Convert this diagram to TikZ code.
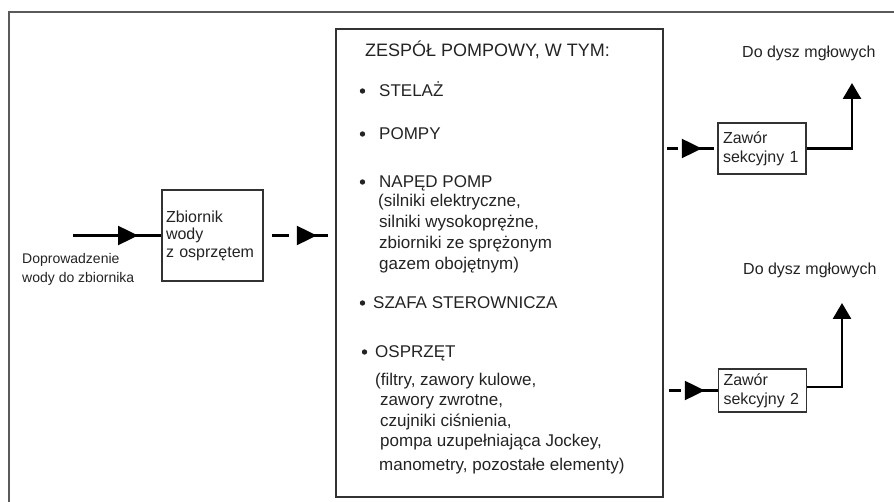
\documentclass[tikz,border=0pt]{standalone}
\usepackage{fontspec}
\setmainfont{Liberation Sans}
\usetikzlibrary{arrows.meta,decorations.markings}
\definecolor{frame-color}{RGB}{90,90,90}
\definecolor{box-color}{RGB}{50,50,50}
\definecolor{text-color}{RGB}{35,35,35}

\tikzset{
    block/.style={draw=box-color, line width=1.5pt, inner sep=0pt, text=text-color},
    plaintext/.style={anchor=base west, inner sep=0pt, text=text-color},
    bodyfont/.style={font=\fontsize{17}{21}\selectfont},
    smallfont/.style={font=\fontsize{16}{19}\selectfont},
    valvebox/.style={block, text width=78pt, inner xsep=5pt, minimum height=#1,
        align=left, smallfont},
    feed/.style 2 args={line width=2.5pt, draw=black, dash pattern=#1,
        postaction={decorate}, decoration={markings,
        mark=at position #2 with {\arrow{Triangle[length=20pt,width=19pt]}}}},
    outflow/.style={line width=2.8pt, -{Triangle[length=16pt,width=18pt]}}
}

\begin{document}
\begin{tikzpicture}[x=1pt, y=-1pt]
    \useasboundingbox (0,0) rectangle (894,502);
    \draw[frame-color, line width=2pt] (9,515) -- (9,12) -- (900,12);

    % zbiornik
    \node[block, text width=93pt, inner xsep=4pt, minimum height=91pt, align=left,
        font=\fontsize{16}{17.5}\selectfont] (tank) at (212.5,235.5)
        {Zbiornik\\wody\\z osprzętem};
    \coordinate (inlet) at (73,235.5);
    \draw[feed={on 200pt off 0pt}{65pt}] (inlet) -- (tank.west);
    \node[plaintext, font=\fontsize{14}{19}\selectfont] (inlet-a) at (22,264) {Doprowadzenie};
    \node[plaintext, font=\fontsize{14}{19}\selectfont] (inlet-b) at (22,283) {wody do zbiornika};

    % zespol pompowy
    \node[block, minimum width=327pt, minimum height=468pt] (pumpset) at (499.5,263) {};
    \draw[feed={on 0pt off 8pt on 17pt off 9pt on 30pt off 20pt}{53pt}] (tank.east) -- (tank.east -| pumpset.west);

    \node[plaintext, font=\fontsize{18}{22}\selectfont] (title) at (365,57) {ZESPÓŁ POMPOWY, W TYM:};
    \node[plaintext, bodyfont] (stelaz) at (379,97) {STELAŻ};
    \node[plaintext, bodyfont] (pompy) at (379,140) {POMPY};
    \node[plaintext, bodyfont] (naped) at (379,188) {NAPĘD POMP};
    \node[plaintext, bodyfont] (naped-a) at (378,207) {(silniki elektryczne,};
    \node[plaintext, bodyfont] (naped-b) at (379,228) {silniki wysokoprężne,};
    \node[plaintext, bodyfont] (naped-c) at (379,249) {zbiorniki ze sprężonym};
    \node[plaintext, bodyfont] (naped-d) at (379,270) {gazem obojętnym)};
    \node[plaintext, bodyfont] (szafa) at (373,309) {SZAFA STEROWNICZA};
    \node[plaintext, bodyfont] (osprzet) at (375,358) {OSPRZĘT};
    \node[plaintext, bodyfont] (osprzet-a) at (375,385) {(filtry, zawory kulowe,};
    \node[plaintext, bodyfont] (osprzet-b) at (380,406) {zawory zwrotne,};
    \node[plaintext, bodyfont] (osprzet-c) at (380,426) {czujniki ciśnienia,};
    \node[plaintext, bodyfont] (osprzet-d) at (380,446) {pompa uzupełniająca Jockey,};
    \node[plaintext, bodyfont] (osprzet-e) at (379,470) {manometry, pozostałe elementy)};
    \foreach \bx/\by in {362.5/91, 362.5/134, 362.5/182, 362.5/303, 364.5/352}
        \fill[text-color] (\bx,\by) circle (2.7);

    % zawory sekcyjne
    \node[valvebox=51pt] (valve1) at (762,148.5) {Zawór\\sekcyjny 1};
    \node[valvebox=43pt] (valve2) at (762.5,390.5) {Zawór\\sekcyjny 2};
    \draw[feed={on 0pt off 3pt on 11pt off 7pt on 29pt off 10pt}{38pt}] (pumpset.east |- valve1.west) -- (valve1.west);
    \draw[feed={on 0pt off 5pt on 12pt off 8pt on 29pt off 5pt}{41pt}] (pumpset.east |- valve2.west) -- (valve2.west);

    \coordinate (nozzle1) at (852,83);
    \coordinate (nozzle2) at (842,303);
    \draw[outflow] (valve1.east) -| (nozzle1);
    \draw[outflow] ([yshift=3.5pt]valve2.east) -| (nozzle2);
    \node[plaintext, smallfont] (dysze1) at (742,58) {Do dysz mgłowych};
    \node[plaintext, smallfont] (dysze2) at (743,275) {Do dysz mgłowych};
\end{tikzpicture}
\end{document}
